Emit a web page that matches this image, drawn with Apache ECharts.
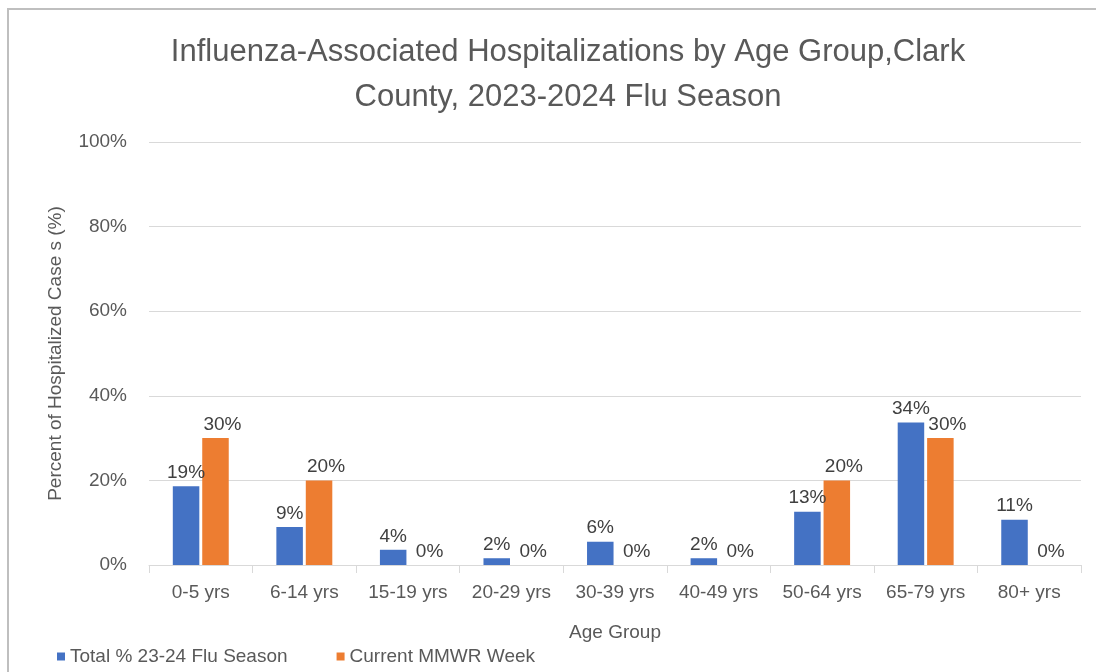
<!DOCTYPE html>
<html>
<head>
<meta charset="utf-8">
<script src="https://cdn.jsdelivr.net/npm/echarts@6/dist/echarts.min.js"></script>
<style>
html, body { margin: 0; padding: 0; background: #fff; }
#main { width: 1096px; height: 672px; }
</style>
</head>
<body>
<div id="main"></div>
<script>
var ageGroups = ['0-5 yrs', '6-14 yrs', '15-19 yrs', '20-29 yrs', '30-39 yrs', '40-49 yrs', '50-64 yrs', '65-79 yrs', '80+ yrs'];
var seasonTotal = [18.6, 9.0, 3.6, 1.6, 5.5, 1.6, 12.6, 33.7, 10.7];
var currentWeek = [30, 20, 0, 0, 0, 0, 20, 30, 0];
var yTicks = [0, 20, 40, 60, 80, 100];

var font = 'Liberation Sans';
var chart = echarts.init(document.getElementById('main'));

function pctLabel(p) {
    return Math.round(p.value) + '%';
}

option = {
    animation: false,
    backgroundColor: '#fff',
    title: {
        text: 'Influenza-Associated Hospitalizations by Age Group,Clark\nCounty, 2023-2024 Flu Season',
        left: 563,
        top: 25,
        textAlign: 'center',
        textStyle: {
            fontFamily: font,
            fontSize: 31,
            fontWeight: 'normal',
            color: '#595959',
            lineHeight: 45
        }
    },
    graphic: [{
        type: 'polyline',
        shape: { points: [[8, 680], [8, 9], [1100, 9]] },
        style: { stroke: '#bfbfbf', lineWidth: 2, fill: null },
        silent: true
    }],
    legend: {
        left: 52,
        top: 642,
        itemWidth: 8,
        itemHeight: 8,
        itemGap: 49,
        icon: 'rect',
        textStyle: { fontFamily: font, fontSize: 19, color: '#595959' },
        data: ['Total % 23-24 Flu Season', 'Current MMWR Week']
    },
    grid: { left: 149, right: 15, top: 142, bottom: 107 },
    xAxis: {
        type: 'category',
        data: ageGroups,
        name: 'Age Group',
        nameLocation: 'middle',
        nameGap: 58,
        nameTextStyle: { fontFamily: font, fontSize: 19, color: '#595959' },
        axisLine: { lineStyle: { color: '#d9d9d9', width: 1 } },
        axisTick: { show: true, length: 8, lineStyle: { color: '#d9d9d9' } },
        axisLabel: { fontFamily: font, fontSize: 19, color: '#595959', margin: 18 }
    },
    yAxis: {
        type: 'value',
        min: yTicks[0],
        max: yTicks[yTicks.length - 1],
        interval: 20,
        name: 'Percent of Hospitalized Case s (%)',
        nameLocation: 'middle',
        nameGap: 84,
        nameTextStyle: { fontFamily: font, fontSize: 19, color: '#595959' },
        axisLine: { show: false },
        axisTick: { show: false },
        splitLine: { lineStyle: { color: '#d9d9d9', width: 1 } },
        axisLabel: {
            fontFamily: font, fontSize: 19, color: '#595959', margin: 22,
            formatter: '{value}%'
        }
    },
    series: [
        {
            name: 'Total % 23-24 Flu Season',
            type: 'bar',
            data: seasonTotal,
            barWidth: '25.6%',
            barGap: '11%',
            itemStyle: { color: '#4472c4' },
            label: {
                show: true, position: 'top', distance: 4,
                color: '#404040', fontFamily: font, fontSize: 19,
                formatter: pctLabel
            }
        },
        {
            name: 'Current MMWR Week',
            type: 'bar',
            data: currentWeek,
            barWidth: '25.6%',
            itemStyle: { color: '#ed7d31' },
            label: {
                show: true, position: 'top', distance: 4, offset: [7, 0],
                color: '#404040', fontFamily: font, fontSize: 19,
                formatter: pctLabel
            }
        }
    ]
};

chart.setOption(option);
window.addEventListener('resize', function () {
    chart.resize();
});
</script>
</body>
</html>
